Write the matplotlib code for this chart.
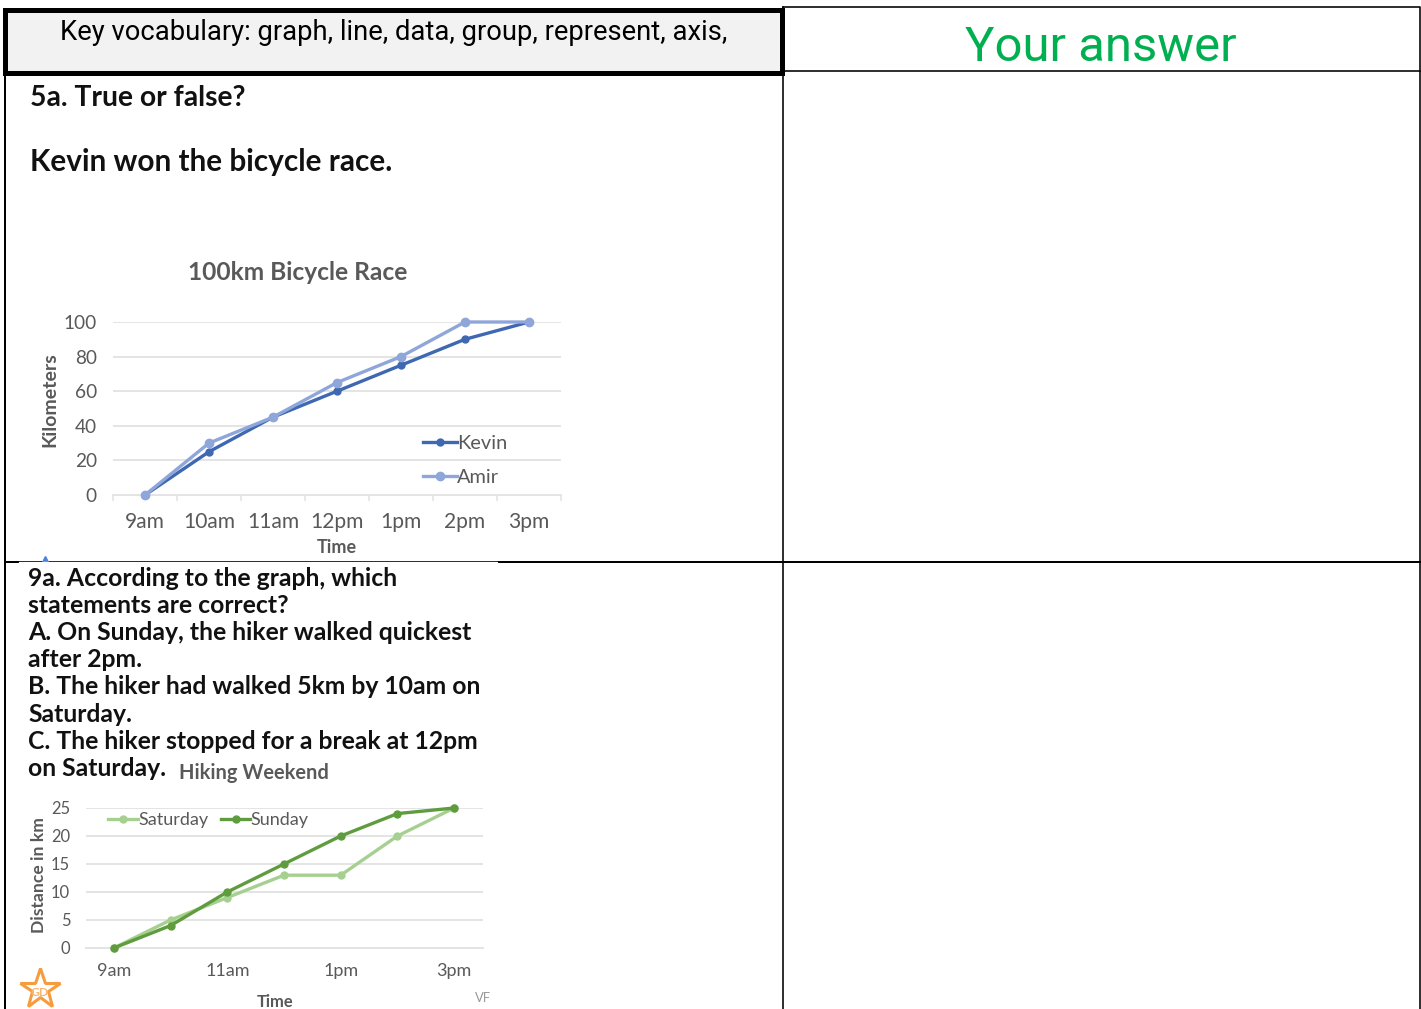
import matplotlib
matplotlib.use('Agg')
import matplotlib.pyplot as plt
from matplotlib.patches import Rectangle

W, H = 1421, 1009

race_hours = ['9am', '10am', '11am', '12pm', '1pm', '2pm', '3pm']
kevin = [0, 25, 45, 60, 75, 90, 100]
amir = [0, 30, 45, 65, 80, 100, 100]
race_ticks = [0, 20, 40, 60, 80, 100]

hike_hours = ['9am', '10am', '11am', '12pm', '1pm', '2pm', '3pm']
hike_labels = ['9am', '', '11am', '', '1pm', '', '3pm']
saturday = [0, 5, 9, 13, 13, 20, 25]
sunday = [0, 4, 10, 15, 20, 24, 25]
hike_ticks = [0, 5, 10, 15, 20, 25]

question_5 = ['5a. True or false?', 'Kevin won the bicycle race.']
question_9 = [
    '9a. According to the graph, which',
    'statements are correct?',
    'A. On Sunday, the hiker walked quickest',
    'after 2pm.',
    'B. The hiker had walked 5km by 10am on',
    'Saturday.',
    'C. The hiker stopped for a break at 12pm',
    'on Saturday.',
]

GREY = '#595959'
GRID = '#e4e4e4'
plt.rcParams['font.family'] = ['Lato', 'DejaVu Sans']


def px(size):
    return size * 72 / 100


def chart_axes(fig, left, right, top, bottom):
    # pixel box from the top left corner to figure fractions
    ax = fig.add_axes([left / W, 1 - bottom / H, (right - left) / W, (bottom - top) / H])
    ax.patch.set_alpha(0)
    for side in ['top', 'right', 'left']:
        ax.spines[side].set_visible(False)
    ax.spines['bottom'].set_color(GRID)
    ax.spines['bottom'].set_linewidth(1.4)
    ax.grid(axis='y', color=GRID, linewidth=1.4)
    ax.set_axisbelow(True)
    ax.tick_params(axis='y', length=0, colors=GREY)
    return ax


fig = plt.figure(figsize=(W / 100, H / 100), dpi=100)
bg = fig.add_axes([0, 0, 1, 1])
bg.set_xlim(0, W)
bg.set_ylim(H, 0)
bg.axis('off')

# table
thin = px(1.6)
bg.plot([783, 1420, 1420], [7, 7, H], color='black', lw=thin)
bg.plot([783, 1420], [71, 71], color='black', lw=thin)
bg.plot([783, 783], [7, H], color='black', lw=thin)
bg.plot([5, 5], [70, H], color='black', lw=px(2))
bg.plot([5, 1420], [562, 562], color='black', lw=px(2))
# the text box sits over the row line and leaves half of it
bg.add_patch(Rectangle((19, 562), 478, 3, color='white', zorder=3))
bg.add_patch(Rectangle((5, 10), 777, 63, facecolor='#f2f2f2', edgecolor='black', lw=px(5), zorder=4))

bg.text(394, 32, 'Key vocabulary: graph, line, data, group, represent, axis,', ha='center', va='center',
        fontsize=px(27.4), family='Roboto', color='black', zorder=5)
bg.text(1101, 48, 'Your answer', ha='center', va='center', fontsize=px(49), family='Roboto',
        color='#00b050', zorder=5)

bg.text(30, 98, question_5[0], va='center', fontsize=px(28.3), fontweight='bold', color='#111111')
bg.text(30, 162, question_5[1], va='center', fontsize=px(29.7), fontweight='bold', color='#111111')

for i, line in enumerate(question_9):
    bg.text(28, 578 + i * 27.2, line, va='center', fontsize=px(24.8), fontweight='bold', color='#111111', zorder=5)

# first chart
ax1 = chart_axes(fig, 113, 561, 322, 495)
x1 = list(range(len(race_hours)))
ax1.plot(x1, kevin, color='#3f68b2', lw=2.4, marker='o', ms=5, label='Kevin', clip_on=False, zorder=3)
ax1.plot(x1, amir, color='#8fa6da', lw=2.4, marker='o', ms=6, label='Amir', clip_on=False, zorder=3)
ax1.set_xlim(-0.5, 6.5)
ax1.set_ylim(0, 100)
ax1.set_yticks(race_ticks)
ax1.set_xticks(x1)
ax1.set_xticklabels(race_hours)
ax1.set_xticks([i - 0.5 for i in range(8)], minor=True)
ax1.tick_params(axis='x', which='major', length=0, pad=12, labelcolor=GREY, labelsize=px(21))
ax1.tick_params(axis='x', which='minor', length=4, color=GRID, width=1.2)
ax1.tick_params(axis='y', labelsize=px(19), pad=11.7)
ax1.set_xlabel('Time', color=GREY, fontsize=px(18), labelpad=5.5, fontweight='bold')
ax1.set_ylabel('Kilometers', color=GREY, fontsize=px(19.5), labelpad=4, fontweight='bold', y=0.55)
ax1.set_title('100km Bicycle Race', color=GREY, fontsize=px(24.5), fontweight='bold', pad=30, x=0.412)
ax1.legend(loc='lower left', bbox_to_anchor=(0.692, 0.05), frameon=False, fontsize=px(20), labelcolor=GREY,
           handlelength=1.7, handletextpad=0.02, labelspacing=0.85, borderpad=0, borderaxespad=0)

# second chart
ax2 = chart_axes(fig, 85.5, 482.5, 808, 948)
x2 = list(range(len(hike_hours)))
ax2.plot(x2, saturday, color='#a6d08f', lw=2.4, marker='o', ms=5, label='Saturday', clip_on=False, zorder=3)
ax2.plot(x2, sunday, color='#5f9c3e', lw=2.4, marker='o', ms=5, label='Sunday', clip_on=False, zorder=3)
ax2.set_xlim(-0.5, 6.5)
ax2.set_ylim(0, 25)
ax2.set_yticks(hike_ticks)
ax2.set_xticks(x2)
ax2.set_xticklabels(hike_labels)
ax2.tick_params(axis='x', length=0, pad=11, labelcolor=GREY, labelsize=px(18))
ax2.tick_params(axis='y', labelsize=px(16.5), pad=11)
ax2.set_xlabel('Time', color=GREY, fontsize=px(16.5), labelpad=10.5, fontweight='bold', x=0.477)
ax2.set_ylabel('Distance in km', color=GREY, fontsize=px(17.5), labelpad=3, fontweight='bold', y=0.52)
ax2.legend(loc='upper left', bbox_to_anchor=(0.0575, 0.97), frameon=False, fontsize=px(18), labelcolor=GREY,
           ncol=2, handlelength=1.65, handletextpad=0.0, columnspacing=0.7, borderpad=0, borderaxespad=0)
bg.text(254, 773, 'Hiking Weekend', ha='center', va='center', color=GREY, fontsize=px(20), fontweight='bold')

# small marks round the charts
bg.plot([40], [989], marker='*', ms=30, mfc='white', mec='#f79c3c', mew=2.2, clip_on=False)
bg.text(40, 993, 'GD', ha='center', va='center', color='#f7b56e', fontsize=px(12), fontweight='bold')
bg.text(483, 998, 'VF', ha='center', va='center', color='#9a9a9a', fontsize=px(13))
bg.plot([45], [559], marker='^', ms=5, color='#4d7fe0')

fig.savefig('out.png', dpi=100)
plt.close(fig)
